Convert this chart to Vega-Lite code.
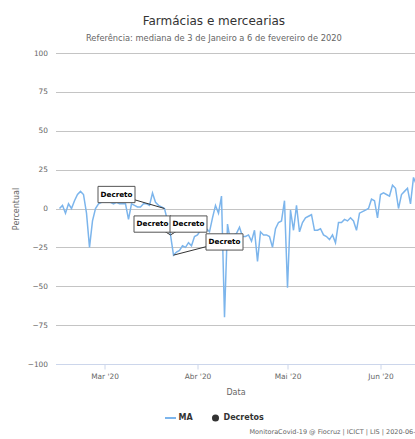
{
  "$schema": "https://vega.github.io/schema/vega-lite/v6.json",
  "padding": {"left": 11.5, "top": 14, "right": 0, "bottom": 0},
  "title": {
    "text": "Farmácias e mercearias",
    "subtitle": "Referência: mediana de 3 de Janeiro a 6 de fevereiro de 2020",
    "fontSize": 12, "fontWeight": "normal", "color": "#333333",
    "subtitleFontSize": 8.3, "subtitleColor": "#666666", "subtitlePadding": 6,
    "anchor": "middle", "offset": 6
  },
  "datasets": {
    "ma": [
      {"data": "2020-02-15T00:00", "valor": 0},
      {"data": "2020-02-16T00:00", "valor": 2},
      {"data": "2020-02-17T00:00", "valor": -3},
      {"data": "2020-02-18T00:00", "valor": 3},
      {"data": "2020-02-19T00:00", "valor": 0},
      {"data": "2020-02-20T00:00", "valor": 5},
      {"data": "2020-02-21T00:00", "valor": 9},
      {"data": "2020-02-22T00:00", "valor": 11},
      {"data": "2020-02-23T00:00", "valor": 9},
      {"data": "2020-02-24T00:00", "valor": -3},
      {"data": "2020-02-25T00:00", "valor": -25},
      {"data": "2020-02-26T00:00", "valor": -8},
      {"data": "2020-02-27T00:00", "valor": 0},
      {"data": "2020-02-28T00:00", "valor": 3},
      {"data": "2020-02-29T00:00", "valor": 4},
      {"data": "2020-03-01T00:00", "valor": 4},
      {"data": "2020-03-02T00:00", "valor": 4},
      {"data": "2020-03-03T00:00", "valor": 4},
      {"data": "2020-03-04T00:00", "valor": 3},
      {"data": "2020-03-05T00:00", "valor": 4},
      {"data": "2020-03-06T00:00", "valor": 3},
      {"data": "2020-03-07T00:00", "valor": 3},
      {"data": "2020-03-08T00:00", "valor": 3},
      {"data": "2020-03-09T00:00", "valor": -7},
      {"data": "2020-03-10T00:00", "valor": 3},
      {"data": "2020-03-11T00:00", "valor": 2},
      {"data": "2020-03-12T00:00", "valor": 1},
      {"data": "2020-03-13T00:00", "valor": 1},
      {"data": "2020-03-14T00:00", "valor": 3},
      {"data": "2020-03-15T00:00", "valor": 3},
      {"data": "2020-03-16T00:00", "valor": 2},
      {"data": "2020-03-17T00:00", "valor": 10},
      {"data": "2020-03-18T00:00", "valor": 4},
      {"data": "2020-03-19T00:00", "valor": 2},
      {"data": "2020-03-20T00:00", "valor": 1},
      {"data": "2020-03-21T00:00", "valor": 0},
      {"data": "2020-03-22T00:00", "valor": -8},
      {"data": "2020-03-23T00:00", "valor": -17},
      {"data": "2020-03-24T00:00", "valor": -30},
      {"data": "2020-03-25T00:00", "valor": -28},
      {"data": "2020-03-26T00:00", "valor": -27},
      {"data": "2020-03-27T00:00", "valor": -24},
      {"data": "2020-03-28T00:00", "valor": -25},
      {"data": "2020-03-29T00:00", "valor": -22},
      {"data": "2020-03-30T00:00", "valor": -24},
      {"data": "2020-03-31T00:00", "valor": -18},
      {"data": "2020-04-01T00:00", "valor": -17},
      {"data": "2020-04-02T00:00", "valor": -14},
      {"data": "2020-04-03T00:00", "valor": -13},
      {"data": "2020-04-04T00:00", "valor": -13},
      {"data": "2020-04-05T00:00", "valor": -15},
      {"data": "2020-04-06T00:00", "valor": -6},
      {"data": "2020-04-07T00:00", "valor": 2},
      {"data": "2020-04-08T00:00", "valor": -3},
      {"data": "2020-04-09T00:00", "valor": 8},
      {"data": "2020-04-10T00:00", "valor": -70},
      {"data": "2020-04-11T00:00", "valor": -10},
      {"data": "2020-04-12T00:00", "valor": -21},
      {"data": "2020-04-13T00:00", "valor": -17},
      {"data": "2020-04-14T00:00", "valor": -16},
      {"data": "2020-04-15T00:00", "valor": -12},
      {"data": "2020-04-16T00:00", "valor": -18},
      {"data": "2020-04-17T00:00", "valor": -18},
      {"data": "2020-04-18T00:00", "valor": -17},
      {"data": "2020-04-19T00:00", "valor": -21},
      {"data": "2020-04-20T00:00", "valor": -14},
      {"data": "2020-04-21T00:00", "valor": -34},
      {"data": "2020-04-22T00:00", "valor": -15},
      {"data": "2020-04-23T00:00", "valor": -17},
      {"data": "2020-04-24T00:00", "valor": -17},
      {"data": "2020-04-25T00:00", "valor": -18},
      {"data": "2020-04-26T00:00", "valor": -25},
      {"data": "2020-04-27T00:00", "valor": -13},
      {"data": "2020-04-28T00:00", "valor": -9},
      {"data": "2020-04-29T00:00", "valor": -8},
      {"data": "2020-04-30T00:00", "valor": 5},
      {"data": "2020-05-01T00:00", "valor": -51},
      {"data": "2020-05-02T00:00", "valor": -1},
      {"data": "2020-05-03T00:00", "valor": -14},
      {"data": "2020-05-04T00:00", "valor": 2},
      {"data": "2020-05-05T00:00", "valor": -15},
      {"data": "2020-05-06T00:00", "valor": -9},
      {"data": "2020-05-07T00:00", "valor": -6},
      {"data": "2020-05-08T00:00", "valor": -5},
      {"data": "2020-05-09T00:00", "valor": -4},
      {"data": "2020-05-10T00:00", "valor": -14},
      {"data": "2020-05-11T00:00", "valor": -14},
      {"data": "2020-05-12T00:00", "valor": -13},
      {"data": "2020-05-13T00:00", "valor": -17},
      {"data": "2020-05-14T00:00", "valor": -18},
      {"data": "2020-05-15T00:00", "valor": -20},
      {"data": "2020-05-16T00:00", "valor": -17},
      {"data": "2020-05-17T00:00", "valor": -22},
      {"data": "2020-05-18T00:00", "valor": -9},
      {"data": "2020-05-19T00:00", "valor": -9},
      {"data": "2020-05-20T00:00", "valor": -7},
      {"data": "2020-05-21T00:00", "valor": -8},
      {"data": "2020-05-22T00:00", "valor": -6},
      {"data": "2020-05-23T00:00", "valor": -8},
      {"data": "2020-05-24T00:00", "valor": -14},
      {"data": "2020-05-25T00:00", "valor": -3},
      {"data": "2020-05-26T00:00", "valor": -2},
      {"data": "2020-05-27T00:00", "valor": -1},
      {"data": "2020-05-28T00:00", "valor": 0},
      {"data": "2020-05-29T00:00", "valor": 6},
      {"data": "2020-05-30T00:00", "valor": 5},
      {"data": "2020-05-31T00:00", "valor": -6},
      {"data": "2020-06-01T00:00", "valor": 9},
      {"data": "2020-06-02T00:00", "valor": 10},
      {"data": "2020-06-03T00:00", "valor": 9},
      {"data": "2020-06-04T00:00", "valor": 8},
      {"data": "2020-06-05T00:00", "valor": 15},
      {"data": "2020-06-06T00:00", "valor": 13},
      {"data": "2020-06-07T00:00", "valor": 0},
      {"data": "2020-06-08T00:00", "valor": 9},
      {"data": "2020-06-09T00:00", "valor": 11},
      {"data": "2020-06-10T00:00", "valor": 13},
      {"data": "2020-06-11T00:00", "valor": 3},
      {"data": "2020-06-12T00:00", "valor": 20},
      {"data": "2020-06-13T00:00", "valor": 15}
    ],
    "decretos": [
      {"data": "2020-03-21T00:00", "valor": 0, "label_data": "2020-03-05T00:00", "label_valor": 9, "rotulo": "Decreto"},
      {"data": "2020-03-23T00:00", "valor": -17, "label_data": "2020-03-17T00:00", "label_valor": -10, "rotulo": "Decreto"},
      {"data": "2020-03-23T00:00", "valor": -17, "label_data": "2020-03-29T00:00", "label_valor": -10, "rotulo": "Decreto"},
      {"data": "2020-03-24T00:00", "valor": -30, "label_data": "2020-04-10T00:00", "label_valor": -21.5, "rotulo": "Decreto"}
    ]
  },
  "vconcat": [
    {
      "width": 360,
      "height": 311,
      "title": {
        "text": "MonitoraCovid-19 @ Fiocruz | ICICT | LIS | 2020-06-",
        "orient": "bottom", "anchor": "end", "frame": "group",
        "fontSize": 6.5, "fontWeight": "normal", "color": "#666666", "offset": 7
      },
      "layer": [
        {
          "data": {"name": "ma"},
          "mark": {"type": "line", "strokeWidth": 1.5, "clip": true},
          "encoding": {
            "x": {
              "field": "data", "type": "temporal",
              "scale": {"domain": [{"year": 2020, "month": 2, "date": 13, "hours": 16}, {"year": 2020, "month": 6, "date": 12, "hours": 16}]},
              "axis": {
                "title": "Data",
                "values": [{"year": 2020, "month": 3, "date": 1}, {"year": 2020, "month": 4, "date": 1}, {"year": 2020, "month": 5, "date": 1}, {"year": 2020, "month": 6, "date": 1}],
                "labelExpr": "['Jan','Fev','Mar','Abr','Mai','Jun','Jul','Ago','Set','Out','Nov','Dez'][month(datum.value)] + \" '\" + timeFormat(datum.value, '%y')",
                "grid": false, "domainColor": "#ccd6eb", "tickColor": "#ccd6eb", "tickSize": 5,
                "labelPadding": 3, "titlePadding": 9, "labelFlush": false
              }
            },
            "y": {
              "field": "valor", "type": "quantitative",
              "scale": {"domain": [-100, 100], "nice": false},
              "axis": {
                "title": "Percentual",
                "values": [-100, -75, -50, -25, 0, 25, 50, 75, 100],
                "tickCount": 9, "labelOverlap": false,
                "grid": true, "gridColor": "#c4c4c4", "domain": false, "ticks": false,
                "labelPadding": 8, "titlePadding": 7
              }
            },
            "color": {
              "datum": "MA", "type": "nominal",
              "scale": {"domain": ["MA", "Decretos"], "range": ["#7cb5ec", "#333333"]},
              "legend": {
                "title": null, "orient": "none", "legendX": 111, "legendY": 361,
                "direction": "horizontal", "labelFontSize": 8, "labelFontWeight": "bold",
                "labelColor": "#333333", "symbolSize": 121, "columnPadding": 18, "labelOffset": 4,
                "encode": {
                  "symbols": {
                    "update": {
                      "shape": {"signal": "datum.value === 'MA' ? 'stroke' : 'circle'"},
                      "fill": {"signal": "datum.value === 'MA' ? 'transparent' : '#333333'"},
                      "stroke": {"signal": "datum.value === 'MA' ? '#7cb5ec' : '#333333'"},
                      "strokeWidth": {"signal": "datum.value === 'MA' ? 2 : 0"},
                      "size": {"signal": "datum.value === 'MA' ? 121 : 50"},
                      "opacity": {"value": 1}
                    }
                  }
                }
              }
            }
          }
        },
        {
          "data": {"name": "decretos"},
          "mark": {"type": "rule", "color": "#333333", "strokeWidth": 1},
          "encoding": {
            "x": {"field": "label_data", "type": "temporal"},
            "x2": {"field": "data"},
            "y": {
              "field": "label_valor", "type": "quantitative",
              "axis": {
                "title": "Percentual",
                "values": [-100, -75, -50, -25, 0, 25, 50, 75, 100],
                "tickCount": 9, "labelOverlap": false,
                "grid": true, "gridColor": "#c4c4c4", "domain": false, "ticks": false,
                "labelPadding": 8, "titlePadding": 7
              }
            },
            "y2": {"field": "valor"}
          }
        },
        {
          "data": {"name": "decretos"},
          "mark": {"type": "point", "shape": "M-1,-0.44H1V0.44H-1Z", "size": 1369, "filled": true, "fill": "#ffffff", "stroke": "#555555", "strokeWidth": 1, "opacity": 1},
          "encoding": {
            "x": {"field": "label_data", "type": "temporal"},
            "y": {
              "field": "label_valor", "type": "quantitative",
              "axis": {
                "title": "Percentual",
                "values": [-100, -75, -50, -25, 0, 25, 50, 75, 100],
                "tickCount": 9, "labelOverlap": false,
                "grid": true, "gridColor": "#c4c4c4", "domain": false, "ticks": false,
                "labelPadding": 8, "titlePadding": 7
              }
            }
          }
        },
        {
          "data": {"name": "decretos"},
          "mark": {"type": "text", "fontSize": 7.2, "fontWeight": "bold", "color": "#000000", "align": "center", "baseline": "middle"},
          "encoding": {
            "x": {"field": "label_data", "type": "temporal"},
            "y": {
              "field": "label_valor", "type": "quantitative",
              "axis": {
                "title": "Percentual",
                "values": [-100, -75, -50, -25, 0, 25, 50, 75, 100],
                "tickCount": 9, "labelOverlap": false,
                "grid": true, "gridColor": "#c4c4c4", "domain": false, "ticks": false,
                "labelPadding": 8, "titlePadding": 7
              }
            },
            "text": {"field": "rotulo"}
          }
        }
      ]
    }
  ],
  "resolve": {"legend": {"color": "independent"}},
  "config": {
    "font": "DejaVu Sans",
    "view": {"stroke": null},
    "axis": {"labelColor": "#666666", "titleColor": "#666666", "labelFontSize": 7.4, "titleFontSize": 8, "titleFontWeight": "normal"}
  }
}
